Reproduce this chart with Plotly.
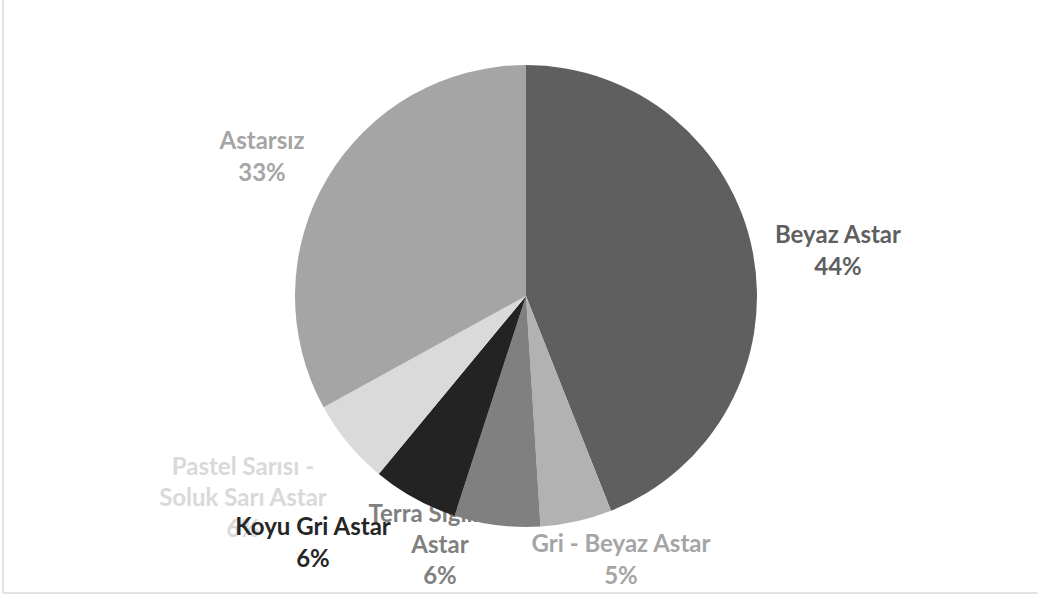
import plotly.graph_objects as go

W, H = 1038, 596

categories = ["Beyaz Astar", "Gri - Beyaz Astar", "Terra Sigillata Astar",
              "Koyu Gri Astar", "Pastel Sarısı - Soluk Sarı Astar", "Astarsız"]
values = [44, 5, 6, 6, 6, 33]
slice_colors = ["#5f5f5f", "#b2b2b2", "#808080", "#232323", "#dadada", "#a5a5a5"]
label_colors = ["#5f5f5f", "#a5a5a5", "#808080", "#262626", "#d9d9d9", "#a5a5a5"]
label_lines = ["Beyaz Astar", "Gri - Beyaz Astar", "Terra Sigillata<br>Astar",
               "Koyu Gri Astar", "Pastel Sarısı -<br>Soluk Sarı Astar", "Astarsız"]
# label centre positions in pixels (layout)
label_x = [838, 621, 440, 313, 243, 262]
label_y = [253, 562, 547, 545, 500, 159]
draw_order = [0, 1, 2, 4, 3, 5]

total = sum(values)
texts = [f"<b>{label_lines[i]}<br>{round(values[i] * 100 / total)}%</b>" for i in range(len(values))]

fig = go.Figure()

# labels (underneath the pie, as in the reference)
fig.add_trace(go.Scatter(
    x=[label_x[i] for i in draw_order],
    y=[label_y[i] for i in draw_order],
    mode="text",
    text=[texts[i] for i in draw_order],
    textposition="middle center",
    textfont=dict(family="Lato", size=24, color=[label_colors[i] for i in draw_order]),
    hoverinfo="skip",
    showlegend=False,
))

cx, cy, R = 526, 296, 231
fig.add_trace(go.Pie(
    labels=categories,
    values=values,
    sort=False,
    direction="clockwise",
    rotation=0,
    marker=dict(colors=slice_colors, line=dict(width=0)),
    textinfo="none",
    showlegend=False,
    domain=dict(x=[(cx - R) / W, (cx + R) / W], y=[1 - (cy + R) / H, 1 - (cy - R) / H]),
))

fig.update_layout(
    width=W, height=H,
    margin=dict(l=0, r=0, t=0, b=0),
    paper_bgcolor="white", plot_bgcolor="rgba(0,0,0,0)",
    xaxis=dict(range=[0, W], visible=False, fixedrange=True),
    yaxis=dict(range=[H, 0], visible=False, fixedrange=True),
    shapes=[
        dict(type="line", xref="paper", yref="paper", x0=3 / W, x1=3 / W, y0=1 - 593 / H, y1=1,
             line=dict(color="#d9d9d9", width=1.5)),
        dict(type="line", xref="paper", yref="paper", x0=3 / W, x1=1, y0=1 - 593 / H, y1=1 - 593 / H,
             line=dict(color="#d9d9d9", width=1.5)),
    ],
)

fig.write_html(
    "out.html",
    config={"displayModeBar": False},
    post_script="document.body.style.margin='0';document.body.style.overflow='hidden';",
)
